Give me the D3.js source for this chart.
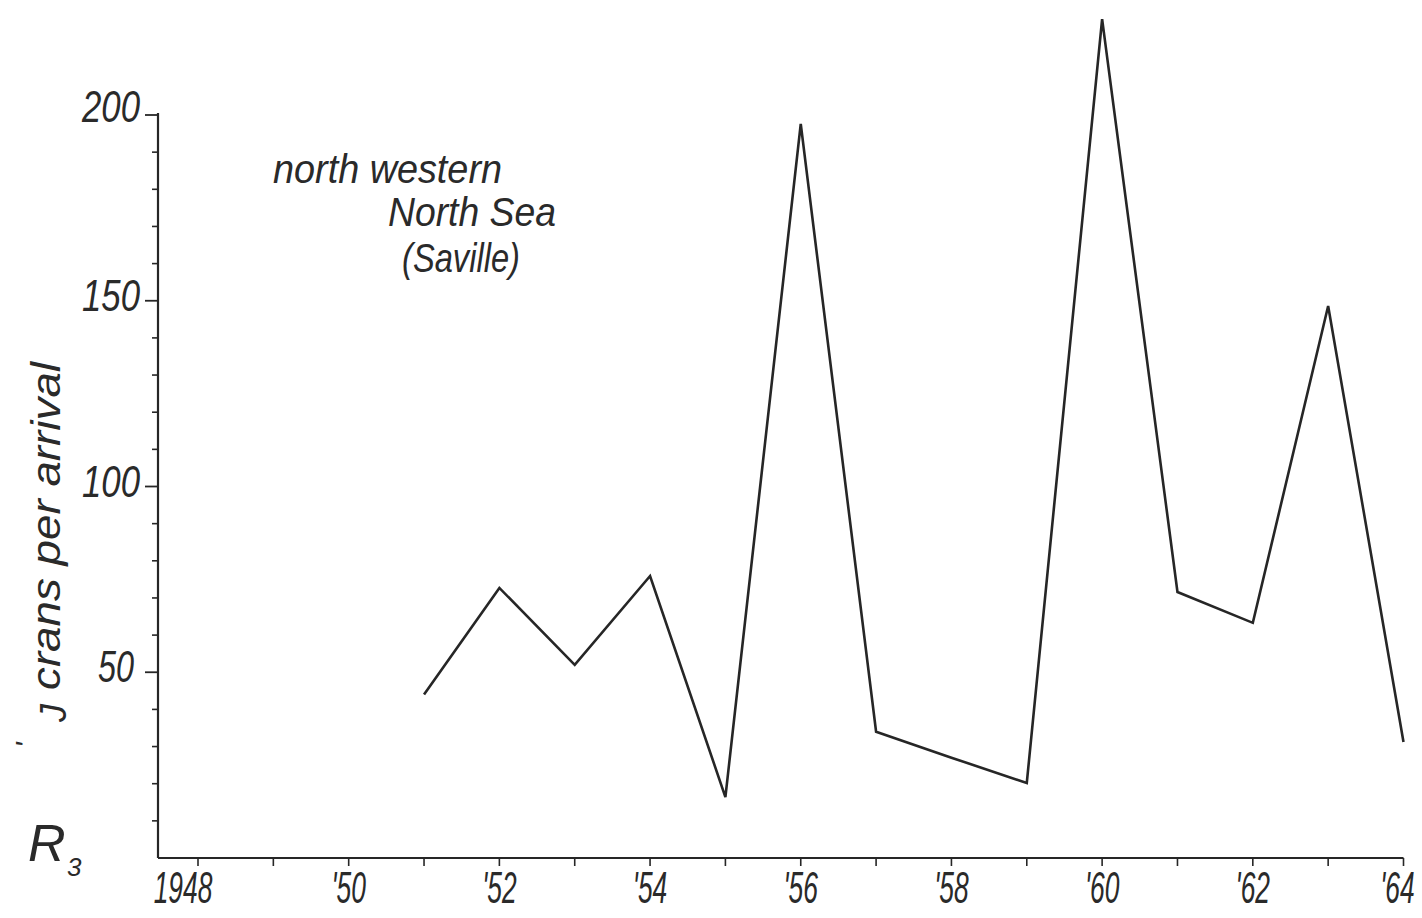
<!DOCTYPE html>
<html>
<head>
<meta charset="utf-8">
<script src="https://cdn.jsdelivr.net/npm/d3@7/dist/d3.min.js"></script>
<style>
  html, body { margin: 0; padding: 0; background: #fff; }
  svg { display: block; }
  text { font-family: "Liberation Sans Narrow", "Liberation Sans", sans-serif; font-style: italic; fill: #2a2a2a; }
</style>
</head>
<body>
<svg id="chart" width="1422" height="918"></svg>
<script>
// ---- data ----
const years = [1951, 1952, 1953, 1954, 1955, 1956, 1957, 1958, 1959, 1960, 1961, 1962, 1963, 1964];
const cransPerArrival = [44, 72.7, 52, 75.9, 16.4, 197.6, 34, 27, 20.2, 225.8, 71.6, 63.3, 148.6, 31.2];
const xTickYears = [1948, 1949, 1950, 1951, 1952, 1953, 1954, 1955, 1956, 1957, 1958, 1959, 1960, 1961, 1962, 1963, 1964];
const xTickLabels = {1948: "1948", 1950: "'50", 1952: "'52", 1954: "'54", 1956: "'56", 1958: "'58", 1960: "'60", 1962: "'62", 1964: "'64"};
const yMajorTicks = [50, 100, 150, 200];
const yMinorTicks = [10, 20, 30, 40, 60, 70, 80, 90, 110, 120, 130, 140, 160, 170, 180, 190];
const titleLines = ["north western", "North Sea", "(Saville)"];

const svg = d3.select("#chart");
const ink = "#262626";

const x = d3.scaleLinear().domain([1948, 1964]).range([198, 1403.5]);
const y = d3.scaleLinear().domain([0, 200]).range([858, 115]);
const xLeft = x.invert(158);

// x axis
const gx = svg.append("g").attr("transform", `translate(0,${y(0)})`);
gx.append("line").attr("x1", x(xLeft)).attr("x2", x(1964)).attr("y1", 0).attr("y2", 0)
  .attr("stroke", ink).attr("stroke-width", 2.2);
gx.selectAll("line.tick").data(xTickYears).join("line").attr("class", "tick")
  .attr("x1", d => x(d)).attr("x2", d => x(d)).attr("y1", 0).attr("y2", 8)
  .attr("stroke", ink).attr("stroke-width", 1.6);
gx.selectAll("text").data(xTickYears.filter(d => xTickLabels[d])).join("text")
  .attr("transform", d => {
    const cx = d === 1948 ? x(d) - 15 : (d === 1964 ? x(d) - 6 : x(d));
    return `translate(${cx},45) scale(0.6,1)`;
  })
  .attr("text-anchor", "middle").attr("font-size", 44)
  .text(d => xTickLabels[d]);

// y axis
const gy = svg.append("g").attr("transform", `translate(${x(xLeft)},0)`);
gy.append("line").attr("x1", 0).attr("x2", 0).attr("y1", y(0)).attr("y2", y(200) - 2)
  .attr("stroke", ink).attr("stroke-width", 2.2);
gy.selectAll("line.major").data(yMajorTicks).join("line").attr("class", "major")
  .attr("x1", -13).attr("x2", 0).attr("y1", d => y(d)).attr("y2", d => y(d))
  .attr("stroke", ink).attr("stroke-width", 1.8);
gy.selectAll("line.minor").data(yMinorTicks).join("line").attr("class", "minor")
  .attr("x1", -6).attr("x2", 0).attr("y1", d => y(d)).attr("y2", d => y(d))
  .attr("stroke", ink).attr("stroke-width", 1.6);
gy.selectAll("text").data(yMajorTicks).join("text")
  .attr("x", d => d === 50 ? -24 : -18).attr("y", d => y(d) + (d === 200 ? 7 : 10))
  .attr("text-anchor", "end").attr("font-size", 45)
  .attr("textLength", d => d >= 100 ? 58 : 36).attr("lengthAdjust", "spacingAndGlyphs")
  .text(d => d);

// data line
const line = d3.line().x((d, i) => x(years[i])).y(d => y(d));
svg.append("path").datum(cransPerArrival)
  .attr("d", line).attr("fill", "none")
  .attr("stroke", ink).attr("stroke-width", 2.6).attr("stroke-linejoin", "miter");

// title
const titlePos = [[273, 183, 229], [388, 226, 168], [402, 272, 118]];
svg.selectAll("text.title").data(titleLines).join("text").attr("class", "title")
  .attr("x", (d, i) => titlePos[i][0]).attr("y", (d, i) => titlePos[i][1])
  .attr("font-size", 40)
  .attr("textLength", (d, i) => titlePos[i][2]).attr("lengthAdjust", "spacingAndGlyphs")
  .text(d => d);

// y axis label
svg.append("text").attr("transform", "translate(60,690) rotate(-90)")
  .attr("font-size", 40).attr("textLength", 328).attr("lengthAdjust", "spacingAndGlyphs")
  .text("crans per arrival");
svg.append("text").attr("transform", "translate(66,722) rotate(-90)")
  .attr("font-size", 36).text("J");
svg.append("text").attr("transform", "translate(36,748) rotate(-90)")
  .attr("font-size", 30).text("'");
svg.append("text").attr("x", 28).attr("y", 861).attr("font-size", 52).text("R");
svg.append("text").attr("x", 67).attr("y", 876).attr("font-size", 26).text("3");
</script>
</body>
</html>
